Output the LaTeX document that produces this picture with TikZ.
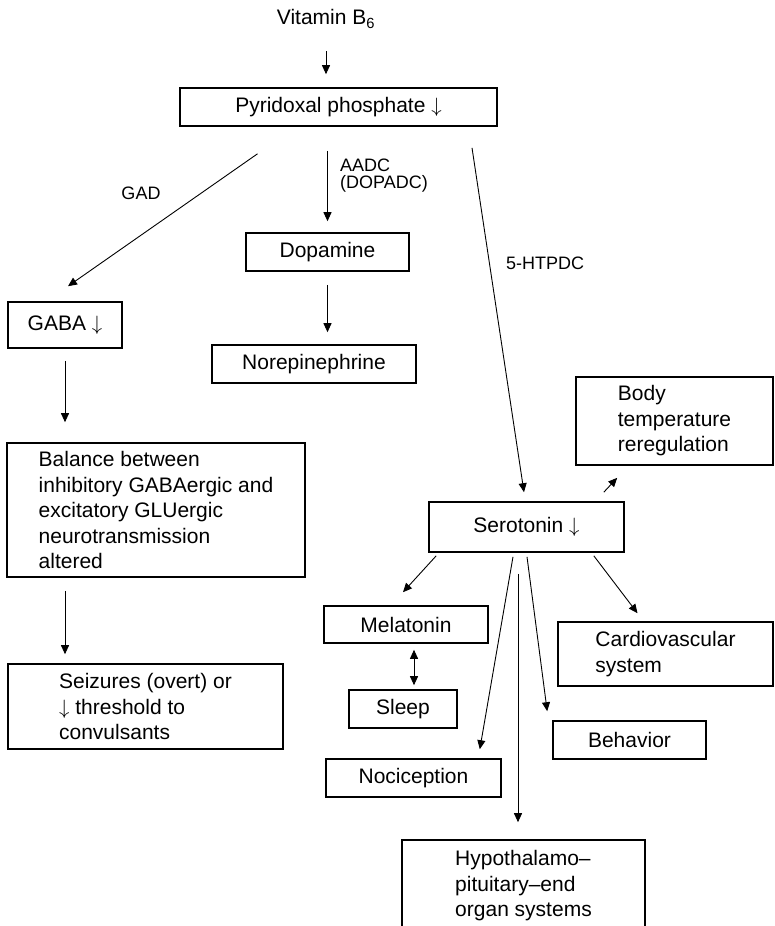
\documentclass[tikz,border=0pt]{standalone}
\usepackage{fontspec}
\setmainfont{Liberation Sans}
\usetikzlibrary{arrows.meta, positioning, calc}

\begin{document}
\begin{tikzpicture}[
  x=1pt, y=-1pt,
  >={Triangle[length=9pt,width=8pt]},
  % Standard connector
  arr/.style={->, line width=0.9pt},
  % Two-way connector
  darr/.style={<->, line width=0.9pt},
  % Plain text
  txt/.style={inner sep=0pt, font=\fontsize{21}{25.5}\selectfont},
  % Boxed entity
  box/.style={txt, draw, line width=1.6pt, align=left},
  % Enzyme label
  lbl/.style={align=left, inner sep=0pt, font=\fontsize{18}{17}\selectfont}
]
\clip (0,0) rectangle (775,926);

%% Precursor
\node[txt] (vit) at (326,19) {Vitamin B\textsubscript{6}};
\node[box, minimum width=317pt, minimum height=38pt] (pyr) at (338.5,107) {Pyridoxal phosphate $\downarrow$};

%% Catecholamine branch
\node[box, minimum width=163pt, minimum height=38pt] (dop) at (327.5,252) {Dopamine};
\node[box, minimum width=204pt, minimum height=38pt] (nor) at (314,364) {Norepinephrine};

%% GABA branch
\node[box, minimum width=114pt, minimum height=46pt] (gaba) at (65,325) {GABA $\downarrow$};
\node[box, minimum width=298pt, minimum height=134pt] (bal) at (156,510)
  {Balance between\\inhibitory GABAergic and\\excitatory GLUergic\\neurotransmission\\altered};
\node[box, minimum width=275pt, minimum height=85pt] (seiz) at (145.5,706.5)
  {Seizures (overt) or\\$\downarrow$ threshold to\\convulsants};

%% Serotonin branch
\node[box, minimum width=195pt, minimum height=50pt] (sero) at (526.5,527) {Serotonin $\downarrow$};
\node[box, minimum width=197pt, minimum height=88pt] (body) at (674.5,421) {Body\\temperature\\reregulation};
\node[box, minimum width=164pt, minimum height=37pt] (mel) at (406,624.5) {Melatonin};
\node[box, minimum width=108pt, minimum height=38pt] (sleep) at (403,709) {Sleep};
\node[box, minimum width=215pt, minimum height=64pt] (cardio) at (665.5,654) {Cardiovascular\\system};
\node[box, minimum width=175pt, minimum height=38pt] (noci) at (413.5,778) {Nociception};
\node[box, minimum width=153pt, minimum height=38pt] (beh) at (629.5,740) {Behavior};
\node[box, minimum width=243pt, minimum height=92pt] (hyp) at (523.5,886)
  {Hypothalamo–\\pituitary–end\\organ systems};

%% Enzyme labels
\node[lbl] (gad) at (141,193) {GAD};
\node[lbl, anchor=west] (aadc) at (340,176) {AADC\\(DOPADC)};
\node[lbl] (htpdc) at (545,263) {5-HTPDC};

%% Edges
\draw[arr, shorten <=23pt, shorten >=13pt] (vit) -- (vit |- pyr.north);
\draw[arr] ([shift={(-81,27)}]pyr.south) -- ([shift={(3,-15)}]gaba.north);
\draw[arr, shorten <=24pt, shorten >=11pt] (dop.north |- pyr.south) -- (dop.north);
\draw[arr, shorten <=13pt, shorten >=12pt] (dop.south) -- (dop.south |- nor.north);
\draw[arr] ([shift={(133.5,21)}]pyr.south) -- ([shift={(-2.5,-9)}]sero.north);

% GABA chain
\draw[arr, shorten <=12pt, shorten >=20pt] (gaba.south) -- (gaba.south |- bal.north);
\draw[arr, shorten <=13pt, shorten >=9pt] (gaba.south |- bal.south) -- (gaba.south |- seiz.north);

% Serotonin targets
\draw[arr] ([shift={(-21,-9)}]sero.north east) -- ([shift={(42,12)}]body.south west);
\draw[arr] ([shift={(8,3)}]sero.south west) -- ([shift={(-3,-13)}]mel.north);
\draw[darr, shorten <=6pt, shorten >=4pt] ([xshift=8pt]mel.south) -- ([xshift=11pt]sleep.north);
\draw[arr] ([shift={(-31,3)}]sero.south east) -- ([shift={(-28,-8)}]cardio.north);
\draw[arr] ([shift={(-13.5,4)}]sero.south) -- ([shift={(-22,-9)}]noci.north east);
\draw[arr] ([shift={(-8.5,21)}]sero.south) -- ([shift={(-5.5,-17)}]hyp.north);
\draw[arr] ([shift={(0.5,4)}]sero.south) -- ([shift={(-5,-9)}]beh.north west);

\end{tikzpicture}
\end{document}
